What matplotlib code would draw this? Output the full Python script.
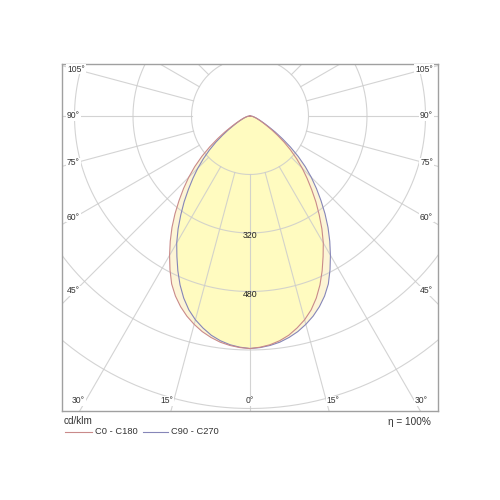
import numpy as np
import matplotlib
matplotlib.use('Agg')
import matplotlib.pyplot as plt
from matplotlib.lines import Line2D

plt.rcParams['font.family'] = ['Liberation Sans', 'DejaVu Sans']

# luminous intensity (cd/klm), gamma = angle from nadir
gamma = [i * 2.5 for i in range(37)]   # 0 .. 90 deg
c0 = [636, 633, 628, 620, 609, 594, 577, 556, 530, 500, 467, 433, 401, 366, 330, 296,
      262, 231, 202, 173, 145, 118, 92, 70, 52, 40, 31, 24, 19, 15, 12, 9, 7, 5, 3, 2, 0]
c180 = [636, 634, 630, 624, 615, 604, 590, 574, 555, 533, 507, 474, 440, 406, 372, 337,
        302, 269, 237, 205, 172, 139, 108, 82, 60, 45, 34, 27, 21, 17, 13, 10, 8, 6, 4, 2, 0]
c90 = [636, 634, 630, 624, 615, 604, 590, 574, 555, 533, 507, 474, 440, 406, 372, 337,
       302, 269, 237, 205, 172, 139, 108, 82, 60, 45, 34, 27, 21, 17, 13, 10, 8, 6, 4, 2, 0]
c270 = [636, 633, 628, 620, 609, 594, 577, 556, 530, 500, 467, 433, 401, 366, 330, 296,
        262, 231, 202, 173, 145, 118, 92, 70, 52, 40, 31, 24, 19, 15, 12, 9, 7, 5, 3, 2, 0]

ring_values = [160, 320, 480, 640, 800, 960, 1120, 1280]
ring_labels = [320, 480]
side_angles = [45, 60, 75, 90, 105]
bottom_angles = [0, 15, 30]

legend_names = ['C0 - C180', 'C90 - C270']
col_c0 = '#c98a8a'
col_c90 = '#8686b8'

# pixel geometry of the frame (500x500 image)
W = 500.0
cx, cy = 250.0, 116.0
s = 58.5 / 160.0           # px per cd/klm
fl, fr, ft, fb = 62.0, 438.0, 64.0, 411.0

fig = plt.figure(figsize=(5, 5), dpi=100)
ax = fig.add_axes([fl / W, 1 - fb / W, (fr - fl) / W, (fb - ft) / W])
ax.set_xlim((fl - cx) / s, (fr - cx) / s)
ax.set_ylim(-(fb - cy) / s, (cy - ft) / s)
ax.set_xticks([])
ax.set_yticks([])
for sp in ax.spines.values():
    sp.set_color('#a0a0a0')
    sp.set_linewidth(1.0)


def half(vals, side):
    a = np.radians(gamma)
    v = np.array(vals, float)
    return side * v * np.sin(a), -v * np.cos(a)


def curve(left, right):
    xl, yl = half(left, -1)
    xr, yr = half(right, 1)
    return np.concatenate([xl[::-1], xr[1:]]), np.concatenate([yl[::-1], yr[1:]])


# fills: outer band and common area
ux, uy = curve(np.maximum(c180, c270), np.maximum(c0, c90))
ix, iy = curve(np.minimum(c180, c270), np.minimum(c0, c90))
ax.fill(ux, uy, color='#fdf5d6', zorder=1, lw=0)
ax.fill(ix, iy, color='#fffbc0', zorder=1.5, lw=0)

# grid
t = np.linspace(0, 2 * np.pi, 400)
for r in ring_values:
    ax.plot(r * np.sin(t), r * np.cos(t), color='#cccccc', lw=0.8, alpha=0.85, zorder=2)
for a in range(0, 360, 15):
    ar = np.radians(a)
    ax.plot([160 * np.sin(ar), 1400 * np.sin(ar)], [-160 * np.cos(ar), -1400 * np.cos(ar)],
            color='#cccccc', lw=0.8, alpha=0.85, zorder=2)

# curves
x1, y1 = curve(c180, c0)
x2, y2 = curve(c270, c90)
ax.plot(x2, y2, color=col_c90, lw=0.8, zorder=3)
ax.plot(x1, y1, color=col_c0, lw=0.8, zorder=3)

for v in ring_labels:
    ax.text(0, -(v + 7), str(v), ha='center', va='center', fontsize=6.3, color='#222222', zorder=4)

# angle labels
box = dict(facecolor='white', edgecolor='none', pad=0.6)
xs = (cx - fl - 13) / s
for a in side_angles:
    yy = -xs / np.tan(np.radians(a))
    ax.text(-(cx - fl - 5) / s, yy, '%d°' % a, ha='left', va='center', fontsize=6.2,
            color='#333333', bbox=box, zorder=4)
    ax.text((fr - cx - 5) / s, yy, '%d°' % a, ha='right', va='center', fontsize=6.2,
            color='#333333', bbox=box, zorder=4)
yb = (fb - 10 - cy) / s
for a in bottom_angles:
    xx = yb * np.tan(np.radians(a))
    if a == 0:
        ax.text(0, -yb, '0°', ha='center', va='center', fontsize=6.2, color='#333333',
                bbox=box, zorder=4)
    else:
        ax.text(-xx - 1, -yb, '%d°' % a, ha='right', va='center', fontsize=6.2,
                color='#333333', bbox=box, zorder=4)
        ax.text(xx + 1, -yb, '%d°' % a, ha='left', va='center', fontsize=6.2,
                color='#333333', bbox=box, zorder=4)

# footer
fig.text(64 / W, 1 - 421 / W, 'cd/klm', ha='left', va='center', fontsize=7.2, color='#333333')
fig.text(431 / W, 1 - 422 / W, 'η = 100%', ha='right', va='center', fontsize=7.2, color='#333333')
fig.add_artist(Line2D([65 / W, 92 / W], [1 - 432 / W] * 2, color=col_c0, lw=0.8))
fig.text(95 / W, 1 - 432 / W, legend_names[0], ha='left', va='center', fontsize=6.7, color='#333333')
fig.add_artist(Line2D([143 / W, 168 / W], [1 - 432 / W] * 2, color=col_c90, lw=0.8))
fig.text(171 / W, 1 - 432 / W, legend_names[1], ha='left', va='center', fontsize=6.7, color='#333333')

fig.savefig('out.png', dpi=100, facecolor='white')
